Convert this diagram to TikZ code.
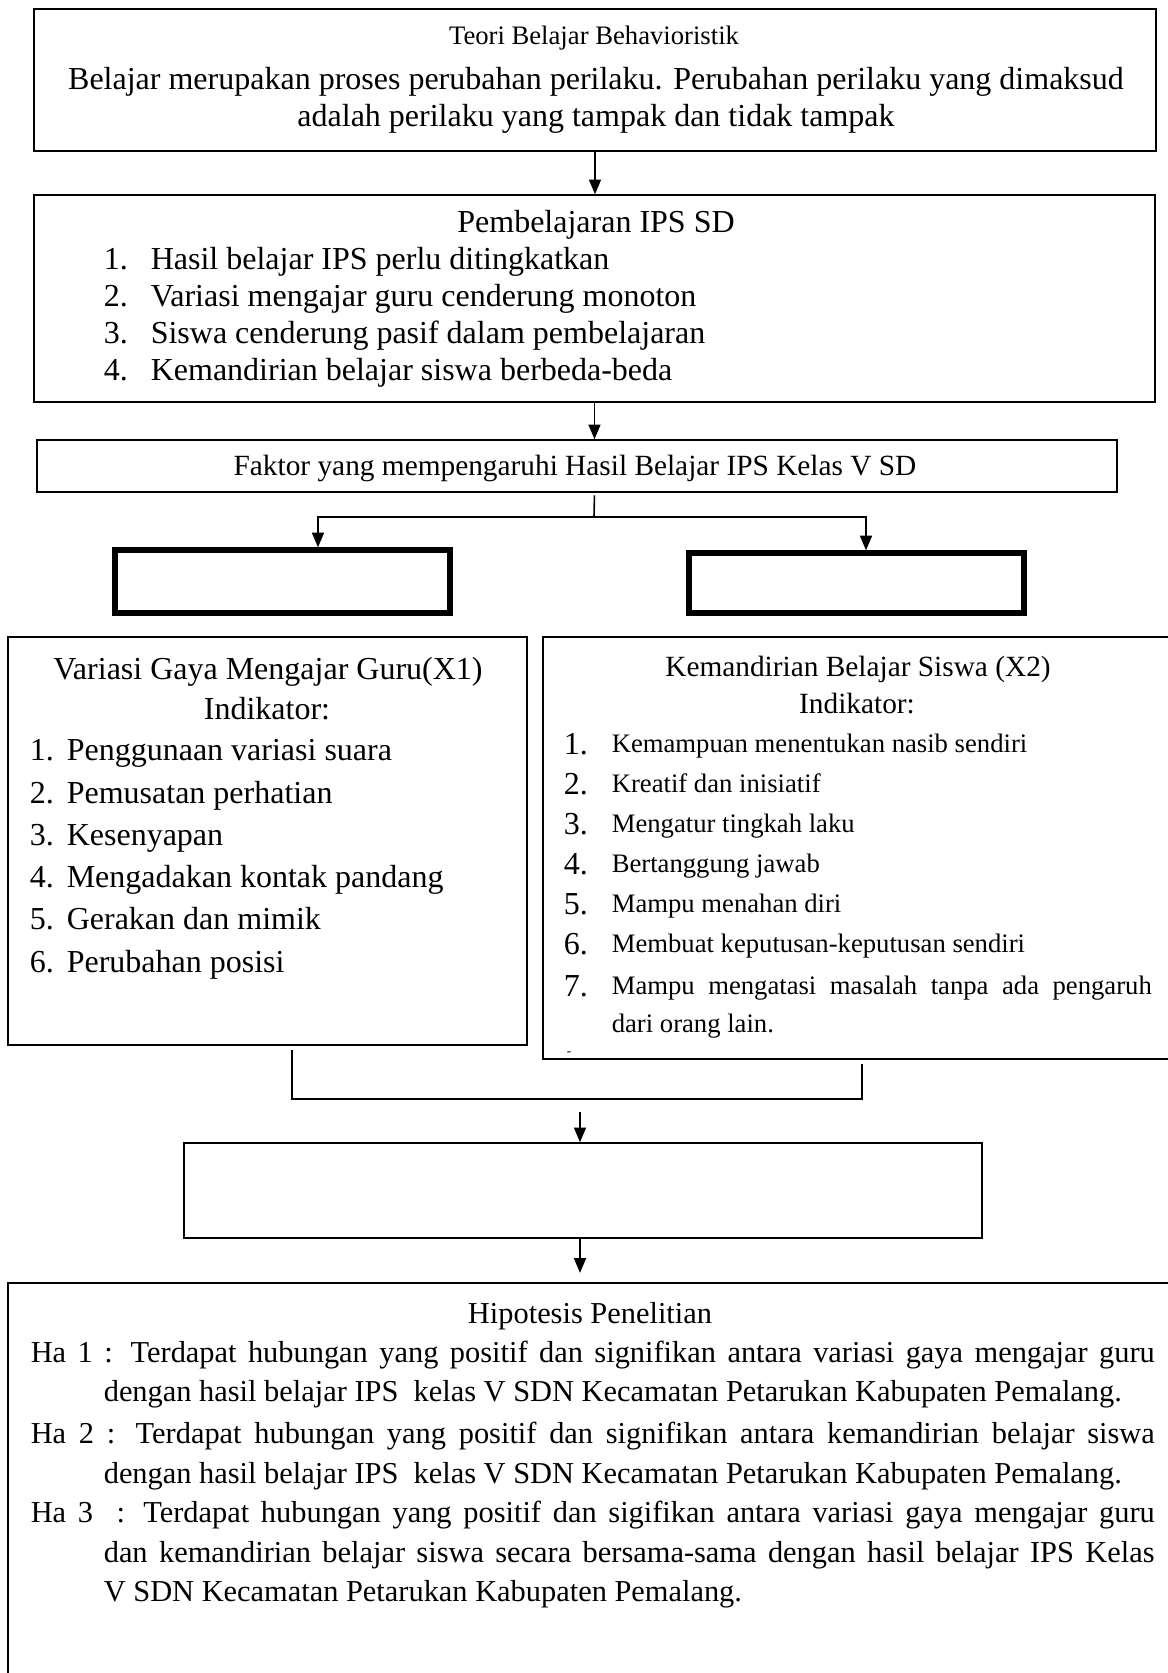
\documentclass[tikz,border=0pt]{standalone}
\usepackage{fontspec}
\setmainfont{Liberation Serif}
\usetikzlibrary{arrows.meta,fit}

\begin{document}
\begin{tikzpicture}[->,x=0.375pt,y=-0.375pt,line width=0.6pt,>={Triangle[length=5.5pt,width=4.5pt]}]
    \tikzstyle{kotak}=[draw, line width=0.6pt, inner sep=0pt]
    \tikzstyle{kotaktebal}=[style=kotak, line width=2pt]
    \tikzstyle{teks}=[inner sep=0pt, text height=9pt, text depth=2.2pt, font=\fontsize{12}{14}\selectfont]
    \tikzstyle{teksnomor}=[style=teks, anchor=west]
    \tikzstyle{teks11}=[inner sep=0pt, text height=8.2pt, text depth=2pt, font=\fontsize{11}{13}\selectfont]
    \tikzstyle{teks10}=[inner sep=0pt, text height=7.5pt, text depth=1.8pt, font=\fontsize{10}{12}\selectfont, anchor=west]
    \tikzstyle{tekshipo}=[inner sep=0pt, text height=8.5pt, text depth=2.1pt, font=\fontsize{11.4}{13.5}\selectfont, anchor=west]
    \useasboundingbox (0,0) rectangle (1168,1673);

    \node[kotak] (teori) [fit={(34,9) (1156,151)}] {};
    \node[kotak] (ips) [fit={(34,195) (1155,402)}] {};
    \node[kotak] (faktor) [fit={(37,440) (1117,492)}] {};
    \node[kotaktebal] (kosong1) [fit={(115,550) (450,613)}] {};
    \node[kotaktebal] (kosong2) [fit={(689,553) (1024,613)}] {};
    \node[kotak] (gaya) [fit={(8,637) (527,1045)}] {};
    \node[kotak] (mandiri) [fit={(543,637) (1185,1059)}] {};
    \node[kotak] (kosong3) [fit={(184,1143) (982,1238)}] {};
    \node[kotak] (hipotesis) [fit={(8,1283) (1185,1690)}] {};

    \node[teks11, font=\fontsize{10}{12}\selectfont] (teorijudul) at (594,36) {Teori Belajar Behavioristik};
    \node[teks] (teori1) at (596,80) {Belajar merupakan proses perubahan perilaku. Perubahan perilaku yang dimaksud};
    \node[teks] (teori2) at (596,117) {adalah perilaku yang tampak dan tidak tampak};

    \node[teks] (ipsjudul) at (596,223) {Pembelajaran IPS SD};
    \foreach \n/\y/\t in {1/260/Hasil belajar IPS perlu ditingkatkan,
                          2/297/Variasi mengajar guru cenderung monoton,
                          3/334/Siswa cenderung pasif dalam pembelajaran,
                          4/371/Kemandirian belajar siswa berbeda-beda}{
        \node[teksnomor] (ipsno\n) at (103,\y) {\n.};
        \node[teksnomor] (ipsbutir\n) at (150,\y) {\t};
    }

    \node[teks11] (faktorteks) at (575,467) {Faktor yang mempengaruhi Hasil Belajar IPS Kelas V SD};

    \node[teks] (gayajudul) at (268,670) {Variasi Gaya Mengajar Guru(X1)};
    \node[teks] (gayaind) at (267,710) {Indikator:};
    \foreach \n/\y/\t in {1/751/Penggunaan variasi suara,
                          2/794/Pemusatan perhatian,
                          3/836/Kesenyapan,
                          4/878/Mengadakan kontak pandang,
                          5/920/Gerakan dan mimik,
                          6/963/Perubahan posisi}{
        \node[teksnomor] (gayano\n) at (29,\y) {\n.};
        \node[teksnomor] (gayabutir\n) at (66,\y) {\t};
    }

    \node[teks11] (mandirijudul) at (858,668) {Kemandirian Belajar Siswa (X2)};
    \node[teks11] (mandiriind) at (857,705) {Indikator:};
    \foreach \n/\y/\t in {1/745/Kemampuan menentukan nasib sendiri,
                          2/785/Kreatif dan inisiatif,
                          3/825/Mengatur tingkah laku,
                          4/865/Bertanggung jawab,
                          5/905/Mampu menahan diri,
                          6/945/Membuat keputusan-keputusan sendiri}{
        \node[teksnomor] (mandirino\n) at (563,\y) {\n.};
        \node[teks10] (mandiributir\n) at (611,\y) {\t};
    }
    \node[teksnomor] (mandirino7) at (563,987) {7.};
    \node[teks10] (mandiributir7) at (611,987) {\makebox[202.5pt][s]{Mampu mengatasi masalah tanpa ada pengaruh}};
    \node[teks10] (mandiributir7b) at (611,1025) {dari orang lain.};
    \node[teks10, font=\fontsize{5}{6}\selectfont] (mandiristrip) at (566,1048) {-};

    \node[tekshipo, anchor=center] (hipojudul) at (590,1315) {Hipotesis Penelitian};
    \node[tekshipo] (ha1a) at (30,1354) {\makebox[421.5pt][s]{Ha 1 : Terdapat hubungan yang positif dan signifikan antara variasi gaya mengajar guru}};
    \node[tekshipo] (ha1b) at (103,1393) {dengan hasil belajar IPS\ \ kelas V SDN Kecamatan Petarukan Kabupaten Pemalang.};
    \node[tekshipo] (ha2a) at (30,1435) {\makebox[421.5pt][s]{Ha 2 : Terdapat hubungan yang positif dan signifikan antara kemandirian belajar siswa}};
    \node[tekshipo] (ha2b) at (103,1475) {dengan hasil belajar IPS\ \ kelas V SDN Kecamatan Petarukan Kabupaten Pemalang.};
    \node[tekshipo] (ha3a) at (30,1514) {\makebox[421.5pt][s]{Ha 3\ \ : Terdapat hubungan yang positif dan sigifikan antara variasi gaya mengajar guru}};
    \node[tekshipo] (ha3b) at (103,1554) {\makebox[394pt][s]{dan kemandirian belajar siswa secara bersama-sama dengan hasil belajar IPS Kelas}};
    \node[tekshipo] (ha3c) at (103,1593) {V SDN Kecamatan Petarukan Kabupaten Pemalang.};

    \coordinate (cabang) at (594,517);
    \coordinate (cabkiri) at (318,517);
    \coordinate (cabkanan) at (866,517);
    \coordinate (gabkiri) at (292,1099);
    \coordinate (gabkanan) at (862,1099);
    \coordinate (turun) at (580,1112);

    \draw (teori.south) -- (teori.south |- ips.north);
    \draw (ips.south) -- (ips.south |- faktor.north);
    \draw[-, shorten <=1pt] (ips.south |- faktor.south) -- (cabang);
    \draw (cabang) -- (cabkiri) -- (cabkiri |- kosong1.north);
    \draw (cabang) -- (cabkanan) -- (cabkanan |- kosong2.north);
    \draw[-, shorten <=1.5pt, shorten >=1.5pt] (gabkiri |- gaya.south) -- (gabkiri) -- (gabkanan) -- (gabkanan |- mandiri.south);
    \draw (turun) -- (turun |- kosong3.north);
    \draw[shorten >=3.5pt] (turun |- kosong3.south) -- (turun |- hipotesis.north);
\end{tikzpicture}
\end{document}
